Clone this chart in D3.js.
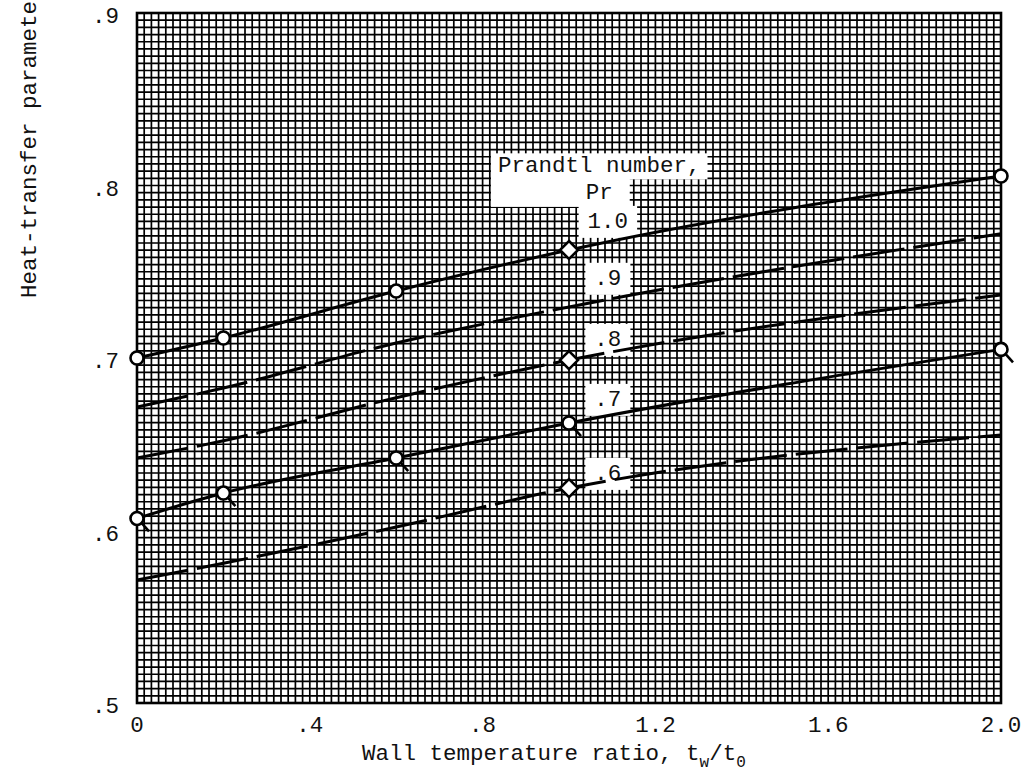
<!DOCTYPE html>
<html>
<head>
<meta charset="utf-8">
<script src="https://cdn.jsdelivr.net/npm/d3@7/dist/d3.min.js"></script>
<style>
    body { margin: 0; background: #fff; }
    svg { display: block; }
    text { font-family: "Liberation Mono", "Courier New", monospace; fill: #111; }
</style>
</head>
<body>
<div id="chart"></div>
<script>
// Heat-transfer parameter vs wall temperature ratio, one curve per Prandtl number
const tempRatio = [0, 0.2, 0.6, 1.0, 2.0];
const prandtlLabels = ['1.0', '.9', '.8', '.7', '.6'];
const pr10 = [0.700, 0.7116, 0.7388, 0.7626, 0.8055];
const pr09 = [0.6716, 0.6826, 0.7087, 0.7296, 0.7720];
const pr08 = [0.642, 0.652, 0.677, 0.6988, 0.7365];
const pr07 = [0.607, 0.6217, 0.642, 0.6623, 0.705];
const pr06 = [0.5713, 0.581, 0.602, 0.6246, 0.6554];

// point symbols: c = circle, q = flagged circle, d = diamond, '' = none
const sym10 = ['c', 'c', 'c', 'd', 'c'];
const sym09 = ['', '', '', '', ''];
const sym08 = ['', '', '', 'd', ''];
const sym07 = ['q', 'q', 'q', 'q', 'q'];
const sym06 = ['', '', '', 'd', ''];

const xTicks = [0, 0.4, 0.8, 1.2, 1.6, 2.0];
const xTickLabels = ['0', '.4', '.8', '1.2', '1.6', '2.0'];
const yTicks = [0.5, 0.6, 0.7, 0.8, 0.9];
const yTickLabels = ['.5', '.6', '.7', '.8', '.9'];

// where each Pr label sits (data units)
const prLabelX = 1.09;
const prLabelY = [0.780, 0.747, 0.7116, 0.6768, 0.6339];

const width = 1023, height = 778;
const margin = { left: 137, right: 22, top: 13, bottom: 75 };

const x = d3.scaleLinear().domain([0, 2.0]).range([margin.left, width - margin.right]);
const y = d3.scaleLinear().domain([0.5, 0.9]).range([height - margin.bottom, margin.top]);

const svg = d3.select('#chart').append('svg')
    .attr('width', width)
    .attr('height', height);

// graph paper grid
const gx = d3.range(1, 120).map(i => i * 2.0 / 120);
const gy = d3.range(1, 96).map(i => 0.5 + i * 0.4 / 96);
const grid = svg.append('g').attr('stroke', '#000').attr('stroke-width', 1.7);
grid.selectAll('line.v').data(gx).join('line')
    .attr('class', 'v')
    .attr('x1', d => x(d)).attr('x2', d => x(d))
    .attr('y1', y(0.5)).attr('y2', y(0.9));
grid.selectAll('line.h').data(gy).join('line')
    .attr('class', 'h')
    .attr('y1', d => y(d)).attr('y2', d => y(d))
    .attr('x1', x(0)).attr('x2', x(2.0));

svg.append('rect')
    .attr('x', x(0)).attr('y', y(0.9))
    .attr('width', x(2.0) - x(0)).attr('height', y(0.5) - y(0.9))
    .attr('fill', 'none').attr('stroke', '#000').attr('stroke-width', 2.6);

// tick labels
svg.append('g').selectAll('text').data(xTicks).join('text')
    .attr('x', d => x(d)).attr('y', y(0.5) + 29)
    .attr('text-anchor', 'middle')
    .attr('font-size', 22.5)
    .text((d, i) => xTickLabels[i]);

svg.append('g').selectAll('text').data(yTicks).join('text')
    .attr('x', x(0) - 18).attr('y', d => y(d))
    .attr('dy', '0.45em')
    .attr('text-anchor', 'end')
    .attr('font-size', 22.5)
    .text((d, i) => yTickLabels[i]);

// axis titles
const xt = svg.append('text')
    .attr('x', 362).attr('y', 760)
    .attr('font-size', 22.5);
xt.append('tspan').text('Wall temperature ratio, t');
xt.append('tspan').attr('dy', 7).attr('font-size', 16).text('w');
xt.append('tspan').attr('dy', -7).text('/t');
xt.append('tspan').attr('dy', 7).attr('font-size', 16).text('0');

svg.append('text')
    .attr('transform', 'translate(36,298) rotate(-90)')
    .attr('font-size', 22.5)
    .text('Heat-transfer parameter');

// label boxes
const labels = svg.append('g');
function boxedText(txt, cx, cy, padX, padY) {
    const t = labels.append('text')
        .attr('x', cx).attr('y', cy).attr('dy', '0.35em')
        .attr('text-anchor', 'middle')
        .attr('font-size', 22.5)
        .text(txt);
    const b = t.node().getBBox();
    labels.insert('rect', 'text')
        .attr('x', b.x - padX).attr('y', b.y - padY)
        .attr('width', b.width + 2 * padX).attr('height', b.height + 2 * padY)
        .attr('fill', '#fff');
    return b;
}

const bTitle = boxedText('Prandtl number,', x(prLabelX - 0.02), y(0.8122), 7, 0);
const bPr = boxedText('Pr', x(prLabelX - 0.02), y(0.7968), 0, 1);
labels.insert('rect', 'text')
    .attr('x', bTitle.x - 7).attr('y', bPr.y - 1)
    .attr('width', bPr.x + bPr.width + 17 - (bTitle.x - 7))
    .attr('height', bPr.height + 2)
    .attr('fill', '#fff');
prandtlLabels.forEach((lab, i) => {
    boxedText(lab, x(prLabelX), y(prLabelY[i]), 9, 3);
});

// curves
const series = [
    { vals: pr10, syms: sym10, dash: null },
    { vals: pr09, syms: sym09, dash: '52,9' },
    { vals: pr08, syms: sym08, dash: '52,9' },
    { vals: pr07, syms: sym07, dash: null },
    { vals: pr06, syms: sym06, dash: '52,9' }
];

const line = d3.line()
    .x(d => x(d[0]))
    .y(d => y(d[1]))
    .curve(d3.curveMonotoneX);

const curves = svg.append('g');
series.forEach(s => {
    const pts = tempRatio.map((t, i) => [t, s.vals[i]]);
    curves.append('path')
        .attr('d', line(pts))
        .attr('fill', 'none')
        .attr('stroke', '#000')
        .attr('stroke-width', 3)
        .attr('stroke-dasharray', s.dash);
});

// symbols
const marks = svg.append('g').attr('stroke', '#000').attr('stroke-width', 2.6).attr('fill', '#fff');
series.forEach(s => {
    tempRatio.forEach((t, i) => {
        const sym = s.syms[i];
        if (!sym) return;
        const px = x(t), py = y(s.vals[i]);
        if (sym === 'd') {
            const r = 9;
            marks.append('path')
                .attr('d', `M${px},${py - r}L${px + r},${py}L${px},${py + r}L${px - r},${py}Z`);
        } else {
            if (sym === 'q') {
                marks.append('line')
                    .attr('x1', px + 4).attr('y1', py + 4)
                    .attr('x2', px + 12).attr('y2', py + 13);
            }
            marks.append('circle')
                .attr('cx', px).attr('cy', py).attr('r', 6.5);
        }
    });
});
</script>
</body>
</html>
